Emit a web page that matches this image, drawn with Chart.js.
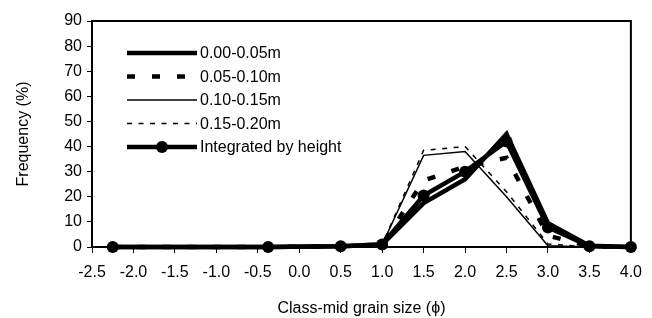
<!DOCTYPE html>
<html>
<head>
<meta charset="utf-8">
<script src="https://cdn.jsdelivr.net/npm/chart.js@4.4.0/dist/chart.umd.min.js"></script>
<style>
    html, body { margin: 0; padding: 0; background: #fff; }
    #wrap { width: 652px; height: 318px; }
</style>
</head>
<body>
<div id="wrap"><canvas id="grafico" width="652" height="318"></canvas></div>
<script>
// class-mid grain size (phi) and frequency (%) per sampling height
const grainSize = [-2.25, -0.375, 0.5, 1.0, 1.5, 2.0, 2.5, 3.0, 3.5, 4.0];
const h000_005 = [0, 0, 0.3, 1, 17.5, 27, 45, 9.5, 0.5, 0];
const h005_010 = [0, 0, 0.3, 1, 26.5, 32, 35.5, 4.5, 0.3, 0];
const h010_015 = [0, 0, 0.3, 1, 36.5, 38, 20, 0.5, 0, 0];
const h015_020 = [0, 0, 0.3, 1, 38.5, 40, 22, 1.2, 0, 0];
const integrated = [0, 0, 0.3, 1, 20.5, 30, 42, 7.8, 0.3, 0];
const seriesLabels = ['0.00-0.05m', '0.05-0.10m', '0.10-0.15m', '0.15-0.20m', 'Integrated by height'];
const xTicks = [-2.5, -2.0, -1.5, -1.0, -0.5, 0.0, 0.5, 1.0, 1.5, 2.0, 2.5, 3.0, 3.5, 4.0];
const yTicks = [0, 10, 20, 30, 40, 50, 60, 70, 80, 90];

const FONT = '"Liberation Sans", Arial, sans-serif';

document.addEventListener('DOMContentLoaded', () => {
    const ctx = document.getElementById('grafico').getContext('2d');

    const toPoints = (values) => values.map((v, i) => ({ x: grainSize[i], y: v }));

    const styles = [
        { borderWidth: 4.5, borderDash: [], pointRadius: 0 },
        { borderWidth: 4.5, borderDash: [8, 17], pointRadius: 0 },
        { borderWidth: 1.5, borderDash: [], pointRadius: 0 },
        { borderWidth: 1.5, borderDash: [5, 6.5], pointRadius: 0 },
        { borderWidth: 4.5, borderDash: [], pointRadius: 6 }
    ];
    const allSeries = [h000_005, h005_010, h010_015, h015_020, integrated];

    const datasets = allSeries.map((vals, i) => ({
        label: seriesLabels[i],
        data: toPoints(vals),
        borderColor: '#000',
        backgroundColor: '#000',
        borderWidth: styles[i].borderWidth,
        borderDash: styles[i].borderDash,
        pointRadius: styles[i].pointRadius,
        pointBackgroundColor: '#000',
        pointBorderWidth: 0,
        tension: 0,
        clip: false,
        order: 4 - i
    }));

    // legend drawn as line samples inside the plot
    const lineLegend = {
        id: 'lineLegend',
        afterDraw(chart) {
            const c = chart.ctx;
            const area = chart.chartArea;
            const x0 = area.left + 35, x1 = x0 + 70;
            chart.data.datasets.forEach((ds, i) => {
                const y = area.top + 32 + i * 23.5;
                c.save();
                c.strokeStyle = '#000';
                c.lineWidth = ds.borderWidth;
                c.setLineDash(ds.borderDash);
                c.beginPath();
                c.moveTo(x0, y);
                c.lineTo(x1, y);
                c.stroke();
                if (ds.pointRadius > 0) {
                    c.setLineDash([]);
                    c.fillStyle = '#000';
                    c.beginPath();
                    c.arc((x0 + x1) / 2, y, ds.pointRadius, 0, Math.PI * 2);
                    c.fill();
                }
                c.fillStyle = '#000';
                c.font = '16px ' + FONT;
                c.textBaseline = 'middle';
                c.fillText(ds.label, x1 + 3, y + 1);
                c.restore();
            });
        }
    };

    // top and right edges of the plot frame
    const frame = {
        id: 'frame',
        afterDraw(chart) {
            const c = chart.ctx;
            const a = chart.chartArea;
            c.save();
            c.strokeStyle = '#000';
            c.lineWidth = 2;
            c.beginPath();
            c.moveTo(a.left, a.top);
            c.lineTo(a.right, a.top);
            c.lineTo(a.right, a.bottom);
            c.stroke();
            c.restore();
        }
    };

    new Chart(ctx, {
        type: 'line',
        data: { datasets: datasets },
        options: {
            responsive: false,
            animation: false,
            layout: { padding: { left: 12, top: 21, right: 14, bottom: 0 } },
            plugins: {
                legend: { display: false },
                tooltip: { enabled: false }
            },
            scales: {
                x: {
                    type: 'linear',
                    min: xTicks[0],
                    max: xTicks[xTicks.length - 1],
                    afterBuildTicks: (scale) => { scale.ticks = xTicks.map(v => ({ value: v })); },
                    afterFit: (scale) => { scale.height = 71; },
                    ticks: {
                        color: '#000',
                        font: { size: 16, family: FONT },
                        padding: 10,
                        maxRotation: 0,
                        callback: (v) => Number(v).toFixed(1)
                    },
                    grid: { drawOnChartArea: false, drawTicks: true, tickLength: 6, color: '#000', lineWidth: 1 },
                    border: { display: true, color: '#000', width: 2 },
                    title: {
                        display: true,
                        text: 'Class-mid grain size (ϕ)',
                        color: '#000',
                        font: { size: 16, family: FONT },
                        padding: { top: 8, bottom: 0 }
                    }
                },
                y: {
                    min: 0,
                    max: 90,
                    afterBuildTicks: (scale) => { scale.ticks = yTicks.map(v => ({ value: v })); },
                    afterFit: (scale) => { scale.width = 80; },
                    ticks: {
                        color: '#000',
                        font: { size: 16, family: FONT },
                        padding: 5
                    },
                    grid: { drawOnChartArea: false, drawTicks: true, tickLength: 5, color: '#000', lineWidth: 1 },
                    border: { display: true, color: '#000', width: 2 },
                    title: {
                        display: true,
                        text: 'Frequency (%)',
                        color: '#000',
                        font: { size: 16, family: FONT },
                        padding: { top: 2, bottom: 0 }
                    }
                }
            }
        },
        plugins: [lineLegend, frame]
    });
});
</script>
</body>
</html>
